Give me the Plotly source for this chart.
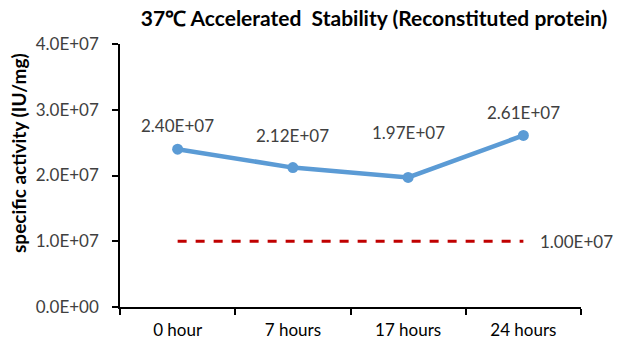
import plotly.graph_objects as go

categories = ["0 hour", "7 hours", "17 hours", "24 hours"]
activity = [2.40e7, 2.12e7, 1.97e7, 2.61e7]
threshold = [1.0e7, 1.0e7, 1.0e7, 1.0e7]
y_ticks = [0, 1e7, 2e7, 3e7, 4e7]

FONT = "Lato"
GRAY = "#404040"
LABEL_SHIFTS = [24, 32, 45, 23]  # pixel offsets of data labels above points (style)

act_labels = [f"{v:.2E}" for v in activity]

fig = go.Figure()
fig.add_trace(go.Scatter(
    x=categories, y=threshold, mode="lines",
    line=dict(color="#C00000", width=3, dash="dash"),
    showlegend=False, hoverinfo="skip",
))
fig.add_trace(go.Scatter(
    x=categories, y=activity, mode="lines+markers",
    line=dict(color="#5B9BD5", width=4.5),
    marker=dict(color="#5B9BD5", size=11),
    showlegend=False,
))

annotations = [
    dict(text="<b>specific activity (IU/mg)</b>", textangle=-90,
         xref="paper", yref="paper", x=-102 / 461, xanchor="center",
         y=(307 - 153) / 263, yanchor="middle", showarrow=False,
         font=dict(family=FONT, size=19, color="black")),
    dict(text=f"{threshold[-1]:.2E}", x=categories[-1], y=threshold[-1],
         xref="x", yref="y", xanchor="left", yanchor="middle",
         xshift=15, showarrow=False,
         font=dict(family=FONT, size=17, color=GRAY)),
]
for c, v, lab, dy in zip(categories, activity, act_labels, LABEL_SHIFTS):
    annotations.append(dict(
        text=lab, x=c, y=v, xref="x", yref="y", xanchor="center",
        yanchor="middle", yshift=dy, showarrow=False,
        font=dict(family=FONT, size=17, color=GRAY)))

fig.update_layout(
    width=622, height=351,
    margin=dict(l=120, r=41, t=44, b=44),
    paper_bgcolor="white", plot_bgcolor="white",
    font=dict(family=FONT, size=17, color=GRAY),
    title=dict(text="<b>37℃ Accelerated  Stability (Reconstituted protein)</b>",
               x=374 / 622, xanchor="center", y=1 - 19 / 351, yanchor="middle",
               font=dict(family=FONT, size=21, color="black")),
    annotations=annotations,
    xaxis=dict(
        type="category", range=[-0.5, 3.5], tickson="boundaries",
        showline=True, linecolor="black", linewidth=1.5,
        ticks="outside", ticklen=6, tickcolor="black", tickwidth=1.5,
        showgrid=False, zeroline=False, ticklabelstandoff=7,
        tickfont=dict(family=FONT, size=17, color="black"),
    ),
    yaxis=dict(
        range=[0, 4e7], tickvals=y_ticks,
        ticktext=[f"{v:.1E}" for v in y_ticks],
        showline=True, linecolor="black", linewidth=1.5,
        ticks="outside", ticklen=6, tickcolor="black", tickwidth=1.5,
        showgrid=False, zeroline=False, ticklabelstandoff=10,
        tickfont=dict(family=FONT, size=17, color=GRAY),
    ),
)

fig.write_html("out.html")
